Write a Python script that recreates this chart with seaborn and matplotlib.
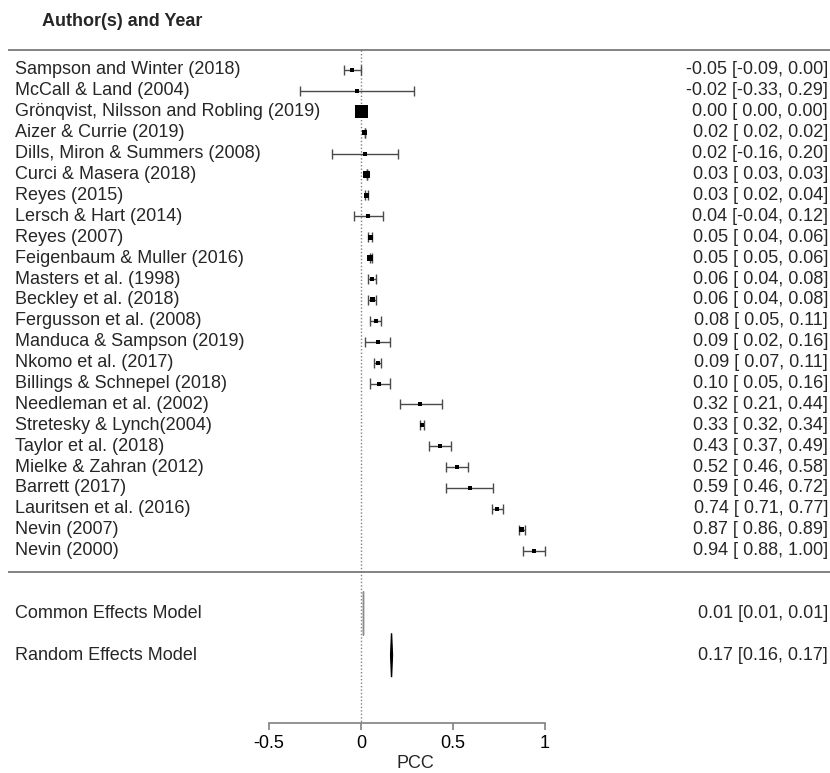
import numpy as np
import pandas as pd
import matplotlib
matplotlib.use("Agg")
import matplotlib.pyplot as plt
import seaborn as sns

# ---------------- data ----------------
studies = [
    "Sampson and Winter (2018)", "McCall & Land (2004)",
    "Grönqvist, Nilsson and Robling (2019)", "Aizer & Currie (2019)",
    "Dills, Miron & Summers (2008)", "Curci & Masera (2018)", "Reyes (2015)",
    "Lersch & Hart (2014)", "Reyes (2007)", "Feigenbaum & Muller (2016)",
    "Masters et al. (1998)", "Beckley et al. (2018)", "Fergusson et al. (2008)",
    "Manduca & Sampson (2019)", "Nkomo et al. (2017)", "Billings & Schnepel (2018)",
    "Needleman et al. (2002)", "Stretesky & Lynch(2004)", "Taylor et al. (2018)",
    "Mielke & Zahran (2012)", "Barrett (2017)", "Lauritsen et al. (2016)",
    "Nevin (2007)", "Nevin (2000)",
]
estimate = [-0.05, -0.02, 0.00, 0.02, 0.02, 0.03, 0.03, 0.04, 0.05, 0.05, 0.06, 0.06,
            0.08, 0.09, 0.09, 0.10, 0.32, 0.33, 0.43, 0.52, 0.59, 0.74, 0.87, 0.94]
ci_lower = [-0.09, -0.33, 0.00, 0.02, -0.16, 0.03, 0.02, -0.04, 0.04, 0.05, 0.04, 0.04,
            0.05, 0.02, 0.07, 0.05, 0.21, 0.32, 0.37, 0.46, 0.46, 0.71, 0.86, 0.88]
ci_upper = [0.00, 0.29, 0.00, 0.02, 0.20, 0.03, 0.04, 0.12, 0.06, 0.06, 0.08, 0.08,
            0.11, 0.16, 0.11, 0.16, 0.44, 0.34, 0.49, 0.58, 0.72, 0.77, 0.89, 1.00]
# relative weight -> square side (visual)
weight = [4, 4, 13, 5, 4, 7, 5, 4, 5, 6, 4, 5, 4, 4, 4, 4, 4, 4, 4, 4, 4, 4, 5, 4]

model_names = ["Common Effects Model", "Random Effects Model"]
model_est = [0.01, 0.166]
model_lower = [0.01, 0.161]
model_upper = [0.01, 0.171]

x_ticks = [-0.5, 0, 0.5, 1]
x_ticklabels = ["-0.5", "0", "0.5", "1"]

# ---------------- style ----------------
sns.set_theme(style="white")
plt.rcParams["font.family"] = ["Liberation Sans", "DejaVu Sans"]
FS = 13

W, H = 830, 773
fig = plt.figure(figsize=(W / 100, H / 100), dpi=100)
ax = fig.add_axes([0, 50 / H, 1, 723 / H])

px_per_unit = 184.0
x0_px = 361.0
row_px = 20.9
row0_px = 70.0

def xpx(p):
    return (p - x0_px) / px_per_unit

def ypx(p):
    return (p - row0_px) / row_px

ax.set_xlim(xpx(0), xpx(W))
ax.set_ylim(ypx(723), ypx(0))

n = len(studies)
df = pd.DataFrame({
    "study": studies, "est": estimate, "lo": ci_lower, "hi": ci_upper,
    "row": np.arange(n), "area": [(w * 0.72) ** 2 for w in weight],
})

ci_col = "#4a4a4a"
cap = 0.24
ax.hlines(df["row"], df["lo"], df["hi"], color=ci_col, lw=1.0, zorder=2)
ax.vlines(df["lo"], df["row"] - cap, df["row"] + cap, color=ci_col, lw=1.0, zorder=2)
ax.vlines(df["hi"], df["row"] - cap, df["row"] + cap, color=ci_col, lw=1.0, zorder=2)

sns.scatterplot(data=df, x="est", y="row", size="area",
                sizes=(df["area"].min(), df["area"].max()),
                marker="s", color="black", linewidth=0, legend=False, ax=ax, zorder=3)

# reference line
ax.vlines(0, ypx(50), ypx(723), color="#808080", lw=1.0, linestyles=(0, (1, 1.5)), zorder=1)

# header & separators
ax.text(xpx(42), ypx(21), "Author(s) and Year", fontsize=FS, fontweight="bold",
        ha="left", va="center")
line_col = "#6e6e6e"
ax.hlines([ypx(50), 24], xpx(8), xpx(W), color=line_col, lw=1.2)

# study labels and values
for i in range(n):
    ax.text(xpx(15), i, studies[i], fontsize=FS, ha="left", va="center")
    lbl = f"{estimate[i]:.2f} [{ci_lower[i]:5.2f}, {ci_upper[i]:.2f}]"
    ax.text(xpx(828), i, lbl, fontsize=FS, ha="right", va="center")

# model diamonds
model_rows = [26, 28]
model_cols = ["#8a8a8a", "black"]
hh = 1.05
for r, e, lo, hi, c, name in zip(model_rows, model_est, model_lower, model_upper,
                                  model_cols, model_names):
    ax.fill([lo, e, hi, e], [r, r - hh, r, r + hh], facecolor=c, edgecolor=c,
            lw=1.0, zorder=3)
    ax.text(xpx(15), r, name, fontsize=FS, ha="left", va="center")
    ax.text(xpx(828), r, f"{e:.2f} [{lo:.2f}, {hi:.2f}]", fontsize=FS,
            ha="right", va="center")

# x axis
for s in ["left", "right", "top"]:
    ax.spines[s].set_visible(False)
ax.spines["bottom"].set_visible(True)
ax.spines["bottom"].set_color("#808080")
ax.spines["bottom"].set_linewidth(1.2)
ax.spines["bottom"].set_bounds(-0.5, 1)
ax.set_xticks(x_ticks)
ax.set_xticklabels(x_ticklabels)
ax.tick_params(axis="x", bottom=True, length=5, width=1.2, color="#808080",
               labelsize=FS, pad=3.5, labelcolor="black")
ax.set_yticks([])
ax.set_xlabel("PCC", fontsize=FS, labelpad=2)
ax.set_ylabel("")
ax.grid(False)

fig.savefig("out.png", dpi=100, facecolor="white")
